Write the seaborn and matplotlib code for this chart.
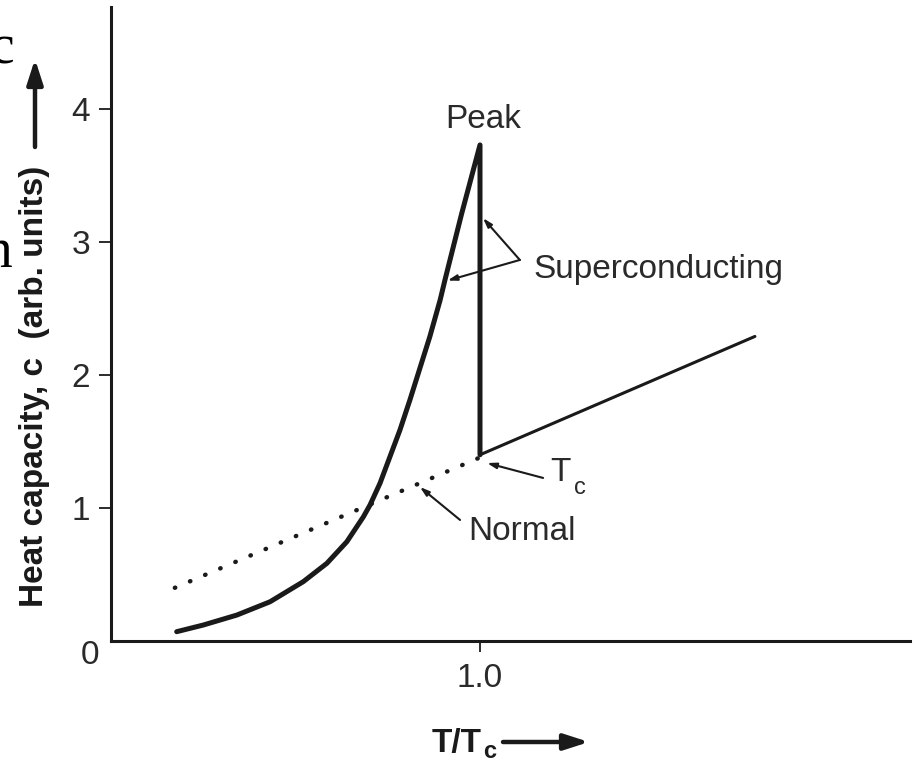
import matplotlib
matplotlib.use("Agg")
import matplotlib.pyplot as plt
import seaborn as sns
import pandas as pd

# ---- data ----
sc_x = [0.178, 0.250, 0.341, 0.431, 0.521, 0.585, 0.639, 0.684, 0.702, 0.729,
        0.756, 0.783, 0.810, 0.837, 0.864, 0.892, 0.905, 0.950, 1.0, 1.0]
sc_y = [0.070, 0.120, 0.195, 0.295, 0.446, 0.584, 0.746, 0.934, 1.023, 1.186,
        1.386, 1.586, 1.812, 2.050, 2.288, 2.564, 2.714, 3.21, 3.73, 1.40]
normal_below_x = [0.173, 1.0]
normal_below_y = [0.40, 1.38]
normal_above_x = [1.0, 1.745]
normal_above_y = [1.40, 2.29]
ytick_vals = [1, 2, 3, 4]
xtick_vals = [1.0]
xtick_labels = ["1.0"]

sns.set_theme(style="white")
plt.rcParams['font.family'] = ['Liberation Sans', 'DejaVu Sans']

W, H = 917, 764
fig = plt.figure(figsize=(W / 100, H / 100), dpi=100)
ax = fig.add_axes([111 / W, (H - 641) / H, (910 - 111) / W, (641 - 7) / H])

ink = '#1a1a1a'
txt = '#2a2a2a'
sc_df = pd.DataFrame({'x': sc_x, 'y': sc_y})
sns.lineplot(data=sc_df, x='x', y='y', estimator=None, sort=False, ax=ax,
             color=ink, lw=3.6, solid_joinstyle='round', solid_capstyle='round')
nb = pd.DataFrame({'x': normal_below_x, 'y': normal_below_y})
sns.lineplot(data=nb, x='x', y='y', estimator=None, sort=False, ax=ax,
             color=ink, lw=3.2)
ax.lines[-1].set_linestyle((0, (0.1, 3.6)))
ax.lines[-1].set_dash_capstyle('round')
na = pd.DataFrame({'x': normal_above_x, 'y': normal_above_y})
sns.lineplot(data=na, x='x', y='y', estimator=None, sort=False, ax=ax,
             color=ink, lw=2.2, solid_capstyle='round')

ax.set_xlim(0, (910 - 111) / 369)
ax.set_ylim(0, (641 - 7) / 133)
ax.set_xlabel('')
ax.set_ylabel('')

for s in ['top', 'right']:
    ax.spines[s].set_visible(False)
for s in ['left', 'bottom']:
    ax.spines[s].set_linewidth(2.2)
    ax.spines[s].set_color(ink)

ax.set_yticks(ytick_vals)
ax.set_yticklabels([str(v) for v in ytick_vals])
ax.set_xticks(xtick_vals)
ax.set_xticklabels(xtick_labels)
ax.tick_params(axis='y', direction='out', length=9, width=1.3, color=ink,
               labelsize=24, labelcolor=txt, pad=6, left=True)
ax.tick_params(axis='x', direction='out', length=8, width=1.3, color=ink,
               labelsize=24, labelcolor=txt, pad=8, bottom=True)

# origin label
fig.text(90 / W, (H - 655) / H, '0', fontsize=24, color=txt,
         ha='center', va='center')

# annotations
arr = dict(arrowstyle='-|>,head_length=0.45,head_width=0.14', lw=1.5,
           color=ink, shrinkA=0, shrinkB=0)
ax.text(1.008, 3.92, 'Peak', fontsize=24, color=txt, ha='center', va='center')
ax.text(1.144, 2.79, 'Superconducting', fontsize=24, color=txt,
        ha='left', va='center')
ax.annotate('', xy=(1.008, 3.18), xytext=(1.108, 2.865), arrowprops=arr)
ax.annotate('', xy=(0.912, 2.71), xytext=(1.108, 2.865), arrowprops=arr)
ax.text(1.19, 1.27, 'T', fontsize=24, color=txt, ha='left', va='center')
ax.text(1.255, 1.15, 'c', fontsize=17, color=txt, ha='left', va='center')
ax.annotate('', xy=(1.019, 1.338), xytext=(1.171, 1.226), arrowprops=arr)
ax.text(0.967, 0.82, 'Normal', fontsize=24, color=txt, ha='left', va='center')
ax.annotate('', xy=(0.837, 1.158), xytext=(0.946, 0.91), arrowprops=arr)

# y label with arrow
fig.text(35 / W, (H - 386) / H, 'Heat capacity, c  (arb. units)', rotation=90,
         fontsize=24, fontweight='bold', color=ink, ha='center', va='center')
fig.add_artist(matplotlib.patches.FancyArrowPatch(
    (35 / W, (H - 147) / H), (35 / W, (H - 59) / H),
    transform=fig.transFigure, mutation_scale=24,
    arrowstyle='-|>,head_length=0.62,head_width=0.2', lw=3.2, color=ink,
    shrinkA=0, shrinkB=0))

# x label with arrow
fig.text(432 / W, (H - 752) / H, 'T/T', fontsize=24, fontweight='bold',
         color=ink, ha='left', va='baseline')
fig.text(483 / W, (H - 763) / H, 'c', fontsize=17, fontweight='bold',
         color=ink, ha='left', va='bottom')
fig.add_artist(matplotlib.patches.FancyArrowPatch(
    (503 / W, (H - 742) / H), (589 / W, (H - 742) / H),
    transform=fig.transFigure, mutation_scale=24,
    arrowstyle='-|>,head_length=0.62,head_width=0.2', lw=3.2, color=ink,
    shrinkA=0, shrinkB=0))

# cropped letters from neighbouring text at the left edge
fig.text(14 / W, (H - 63) / H, 'c', fontsize=40, family='Liberation Serif',
         color='black', ha='right', va='baseline')
fig.text(13 / W, (H - 267) / H, 'n', fontsize=40, family='Liberation Serif',
         color='black', ha='right', va='baseline')

fig.savefig('out.png', dpi=100, facecolor='white')
